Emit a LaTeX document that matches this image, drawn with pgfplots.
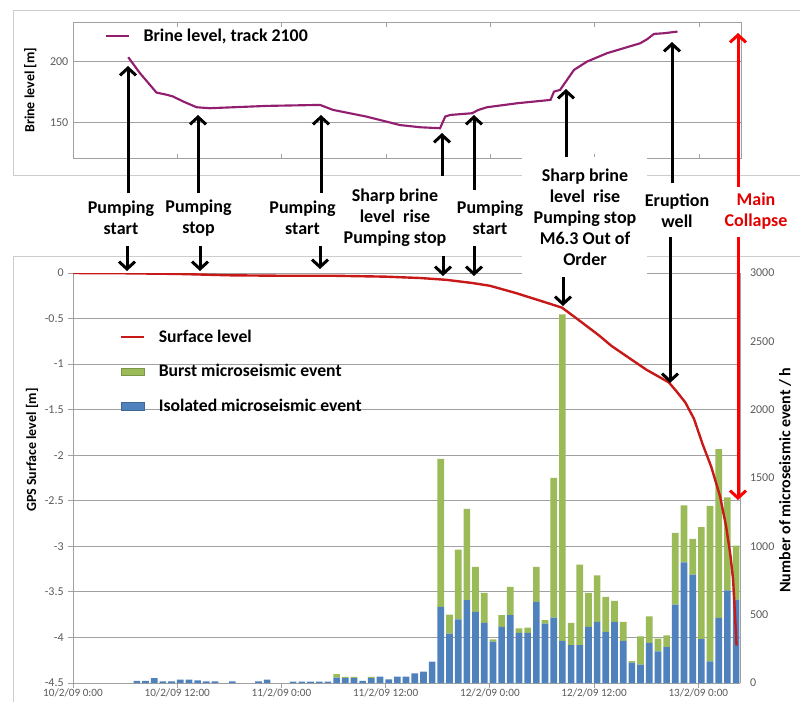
\documentclass[border=0pt]{standalone}
\usepackage{fontspec}
\setmainfont{Carlito}
\usepackage{pgfplots}
\usepackage{pgfplotstable}
\pgfplotsset{compat=1.18}
\usetikzlibrary{arrows.meta}

\definecolor{surfred}{RGB}{200,25,25}
\definecolor{brine}{RGB}{145,30,110}
\definecolor{isoblue}{RGB}{79,129,189}
\definecolor{burstgreen}{RGB}{155,187,89}
\definecolor{gridgray}{RGB}{160,160,160}
\definecolor{framegray}{RGB}{205,205,205}
\definecolor{ticktext}{RGB}{90,90,90}

% hourly microseismic events (hour after 10/2/09 0:00)
\pgfplotstableread{
hour iso burst
7 15 0
8 15 0
9 35 0
10 12 0
11 12 0
12 25 0
13 25 0
14 20 0
15 12 0
16 12 0
18 12 0
21 12 0
22 25 0
25 10 0
26 10 0
27 10 0
28 10 0
29 10 0
30 40 25
31 35 10
32 35 10
33 15 0
34 35 10
35 46 0
36 27 0
37 46 0
38 46 0
39 70 0
40 83 0
41 156 0
42 557 1083
43 362 139
44 465 511
45 606 669
46 521 328
47 440 219
48 302 17
49 411 85
50 496 207
51 367 32
52 367 39
53 594 255
54 435 25
55 479 1022
56 309 2389
57 277 163
58 277 589
59 411 248
60 448 340
61 375 255
62 448 153
63 309 139
64 150 10
65 134 207
66 293 195
67 232 92
68 263 86
69 573 525
70 883 417
71 793 261
72 322 819
73 159 1138
74 476 1236
75 678 680
76 610 395
}\events

\pgfplotsset{
  tlab/.style={font=\fontsize{9}{10}\selectfont, text=ticktext},
}

\begin{document}
\begin{tikzpicture}
\useasboundingbox (0,0) rectangle (600pt,-525.75pt);

\begin{scope}[x=0.75pt,y=-0.75pt]
  \draw[framegray, line width=0.75pt] (13,175) -- (13,10) -- (805,10);
  \draw[framegray, line width=0.75pt] (13,175) -- (805,175);
  \draw[framegray, line width=0.75pt] (805,256) -- (13,256) -- (13,705);
\end{scope}

% top: brine level
\begin{axis}[
  at={(54.75pt,-118.5pt)}, anchor=south west, scale only axis,
  width=501pt, height=101.6pt,
  xmin=0, xmax=76.8, ymin=121, ymax=232,
  xtick={0,12,...,72}, xticklabels={},
  ytick={150,200}, yticklabels={150,200},
  ymajorgrids, grid style={gridgray, line width=0.75pt},
  axis line style={gridgray, line width=0.75pt},
  tick style={gridgray, line width=0.75pt}, major tick length=3pt,
  ytick style={draw=none},
  ticklabel style={tlab},
  /pgf/number format/assume math mode=true,
  ylabel={Brine level [m]},
  ylabel style={font=\bfseries\fontsize{10.5}{12}\selectfont, at={(axis description cs:-0.064,0.5)}, anchor=center},
  legend style={draw=none, fill=none, inner sep=0pt, at={(axis description cs:0.048,0.90)}, anchor=west,
    font=\bfseries\fontsize{13.4}{15}\selectfont, /tikz/every odd column/.append style={column sep=8pt}},
]
\addplot[brine, line width=1.6pt] coordinates {
(6.35,203.6) (7.7,190.5) (9.6,174.6) (10.8,172.8) (11.5,171.4) (12.7,167.2) (14.2,162.6)
(15.7,161.8) (18.5,162.6) (22.3,163.7) (28.4,164.5) (29.9,160.4) (33.7,155.0) (37.6,148.0)
(39.9,146.2) (42.2,145.4) (42.8,155.0) (43.4,156.3) (45.9,157.7) (46.6,160.4) (47.6,162.6)
(51.1,165.9) (54.9,168.6) (55.3,175.4) (56.0,176.8) (56.8,185.0) (57.6,193.2) (59.1,200.0)
(61.4,206.9) (65.2,215.0) (66.0,218.3) (66.8,222.7) (67.9,223.2) (69.5,224.6)
};
\addlegendentry{Brine level, track 2100}
\end{axis}

% bottom: grid, left axis, dates
\begin{axis}[
  at={(54.75pt,-512.25pt)}, anchor=south west, scale only axis,
  width=500.25pt, height=307.5pt,
  xmin=0, xmax=76.8, ymin=-4.5, ymax=0,
  axis y line*=left, axis x line*=bottom,
  xtick={0,12,...,72},
  xticklabels={10/2/09 0:00,10/2/09 12:00,11/2/09 0:00,11/2/09 12:00,12/2/09 0:00,12/2/09 12:00,13/2/09 0:00},
  ytick={-4.5,-4,...,0},
  yticklabels={-4.5,-4,-3.5,-3,-2.5,-2,-1.5,-1,-0.5,0},
  ymajorgrids, grid style={gridgray, line width=0.75pt},
  axis line style={gridgray, line width=0.75pt},
  tick style={gridgray, line width=0.75pt}, tick align=outside, major tick length=3.5pt,
  ticklabel style={tlab},
  xticklabel style={font=\fontsize{8.4}{9}\selectfont, yshift=2.6pt},
  /pgf/number format/assume math mode=true,
  ylabel={GPS Surface level [m]},
  ylabel style={font=\bfseries\fontsize{10.5}{12}\selectfont, at={(axis description cs:-0.0615,0.568)}, anchor=center},
]
\end{axis}

% bottom: events, right axis
\begin{axis}[
  at={(54.75pt,-512.25pt)}, anchor=south west, scale only axis,
  width=500.25pt, height=307.5pt,
  xmin=0, xmax=76.8, ymin=0, ymax=3000,
  axis y line*=right, axis x line=none,
  ytick={0,500,...,3000}, yticklabels={0,500,1000,1500,2000,2500,3000},
  axis line style={gridgray, line width=0.75pt},
  tick style={draw=none},
  ticklabel style={tlab},
  yticklabel style={xshift=4pt},
  /pgf/number format/assume math mode=true,
  ybar stacked, bar width=5pt,
  ylabel={Number of microseismic event / h},
  ylabel style={font=\bfseries\fontsize{12}{14}\selectfont, at={(axis description cs:1.0675,0.495)}, anchor=center},
]
\addplot[fill=isoblue, draw=none] table[x expr=\thisrow{hour}+0.35, y=iso]{\events};
\addplot[fill=burstgreen, draw=none] table[x expr=\thisrow{hour}+0.35, y=burst]{\events};
\end{axis}

% bottom: surface level curve and legend
\begin{axis}[
  at={(54.75pt,-512.25pt)}, anchor=south west, scale only axis,
  width=500.25pt, height=307.5pt,
  xmin=0, xmax=76.8, ymin=-4.5, ymax=0,
  hide axis,
  legend cell align=left,
  legend style={draw=none, fill=none, inner sep=0pt, at={(axis description cs:0.0705,0.868)}, anchor=north west,
    font=\bfseries\fontsize{13.25}{14}\selectfont, row sep=11pt,
    /tikz/every odd column/.append style={column sep=8pt}},
]
\addplot[surfred, line width=1.8pt] coordinates {
(0,0) (6,-0.003) (12,-0.01) (18,-0.025) (24,-0.03) (30,-0.03) (36,-0.04) (40,-0.055)
(43,-0.075) (46,-0.11) (48,-0.14) (51,-0.22) (54,-0.31) (56.3,-0.38) (58,-0.5) (60.5,-0.68)
(62,-0.8) (64.3,-0.95) (66,-1.06) (68.6,-1.2) (69.5,-1.3) (70.5,-1.42) (71.5,-1.6)
(72.5,-1.88) (73.5,-2.13) (74.5,-2.45) (75.2,-2.78) (75.7,-3.1) (76.0,-3.36) (76.2,-3.7) (76.4,-4.09)
};
\addlegendentry{Surface level}
\addlegendimage{area legend, fill=burstgreen, draw=burstgreen!80!black}
\addlegendentry{Burst microseismic event}
\addlegendimage{area legend, fill=isoblue, draw=isoblue!80!black}
\addlegendentry{Isolated microseismic event}
\end{axis}

% annotations
\begin{scope}[x=0.75pt,y=-0.75pt,
  ann/.style={font=\bfseries\fontsize{13.5}{15.75}\selectfont, align=center, inner sep=0pt},
  arr/.style={line width=2.25pt, -{Straight Barb[length=5.5pt,width=12pt]}}]
  \fill[white] (522,156.5) rectangle (647,276.5);
  \node[ann] at (121,218) {Pumping\\start};
  \node[ann] at (198.5,218) {Pumping\\stop};
  \node[ann] at (302.5,218) {Pumping\\start};
  \node[ann] at (395,218) {Sharp brine\\level\ \ rise\\Pumping stop};
  \fill[white] (447,190) rectangle (528,244);
  \node[ann] at (490,218) {Pumping\\start};
  \node[ann] at (585,217) {Sharp brine\\level\ \ rise\\Pumping stop\\M6.3 Out of\\Order};
  \node[ann] at (677,211) {Eruption\\well};
  \node[ann, text={rgb,255:red,225;green,0;blue,0}] at (756,211) {Main\\Collapse};
  % up arrows to brine level
  \draw[arr] (128,193) -- (128,66);
  \draw[arr] (198,193) -- (198,115);
  \draw[arr] (321,193) -- (321,115);
  \draw[arr] (442,176) -- (442,133);
  \draw[arr] (474,190) -- (474,115);
  \draw[arr] (566,157) -- (566,89);
  \draw[arr] (672,183) -- (672,42);
  % down arrows to surface level
  \draw[arr] (127,246) -- (127,271);
  \draw[arr] (200,246) -- (200,271);
  \draw[arr] (320,246) -- (320,269);
  \draw[arr] (443,256) -- (443,276);
  \draw[arr] (474,246) -- (474,276);
  \draw[arr] (563,277) -- (563,306);
  \draw[arr] (670,237) -- (670,383);
  % main collapse
  \draw[arr, red] (738,187) -- (738,33);
  \draw[arr, red] (738,237) -- (738,500);
\end{scope}
\end{tikzpicture}
\end{document}
